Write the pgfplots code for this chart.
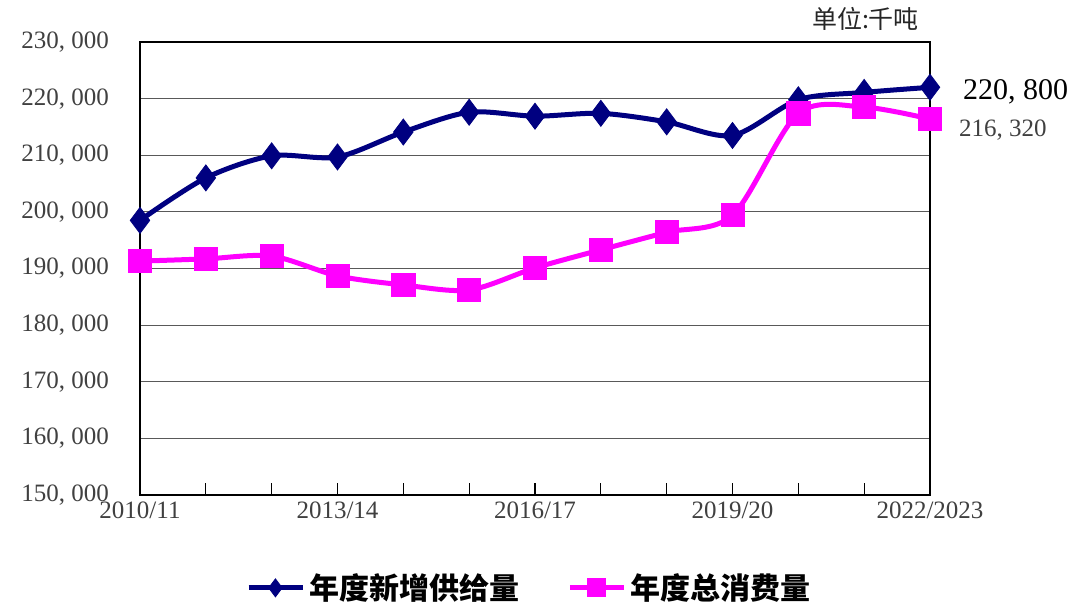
\documentclass[border=0pt]{standalone}
\usepackage{pgfplots}
\pgfplotsset{compat=1.18}
\usepackage{fontspec}
\setmainfont{Liberation Serif}
\newfontfamily\cjk{Noto Sans CJK SC}
\definecolor{navyline}{HTML}{000080}
\definecolor{magline}{HTML}{FF00FF}
\definecolor{labgray}{HTML}{404040}

\begin{document}
\begin{tikzpicture}
\begin{axis}[
  scale only axis, width=395pt, height=226.5pt,
  clip=false,
  xmin=0, xmax=12, ymin=150000, ymax=230000,
  xtick={0,...,12},
  xticklabels={2010/11,,,2013/14,,,2016/17,,,2019/20,,,2022/2023},
  ytick={150000,160000,...,230000},
  yticklabels={{150,\ 000},{160,\ 000},{170,\ 000},{180,\ 000},{190,\ 000},
    {200,\ 000},{210,\ 000},{220,\ 000},{230,\ 000}},
  ymajorgrids, grid style={black!65, line width=0.6pt},
  axis line style={black, line width=0.6pt},
  xtick pos=bottom, tick align=inside, major tick length=6pt,
  ytick style={draw=none},
  x tick style={black, line width=0.6pt},
  scaled y ticks=false,
  tick label style={font=\fontsize{12.5}{14}\selectfont, text=labgray},
  yticklabel style={xshift=-12pt},
  legend columns=2,
  legend cell align=left,
  legend style={draw=none, at={(0.494,-0.205)}, anchor=center,
    font=\cjk\bfseries\fontsize{15}{18}\selectfont,
    /tikz/every even column/.append style={column sep=22pt}},
  legend image code/.code={
    \draw[mark repeat=2, mark phase=2, mark size=4.5pt]
      plot coordinates {(0cm,0cm) (0.47cm,0cm) (0.95cm,0cm)};},
]
\addplot[navyline, line width=2.5pt, smooth, mark=diamond*, mark size=6.5pt,
  mark options={solid, fill=navyline, line width=0.4pt}]
  coordinates {
  (0,198500) (1,206000) (2,209900) (3,209700) (4,214100) (5,217600)
  (6,216900) (7,217400) (8,215900) (9,213500) (10,219800) (11,221100)
  (12,222000)
  } node[pos=1, anchor=west, xshift=12pt, yshift=-2.5pt, text=black,
    font=\fontsize{15}{16}\selectfont] {220,\ 800};
\addlegendentry{年度新增供给量}
\addplot[magline, line width=2.5pt, smooth, mark=square*, mark size=5.8pt,
  mark options={solid, fill=magline, line width=0.4pt}]
  coordinates {
  (0,191300) (1,191700) (2,192200) (3,188700) (4,187100) (5,186200)
  (6,190100) (7,193300) (8,196400) (9,199400) (10,217400) (11,218500)
  (12,216400)
  } node[pos=1, anchor=west, xshift=10pt, yshift=-5.5pt, text=labgray,
    font=\fontsize{12.5}{14}\selectfont] {216,\ 320};
\addlegendentry{年度总消费量}
\node[anchor=south east, font=\cjk\fontsize{12.5}{14}\selectfont, text=black!85,
  yshift=2pt] at (rel axis cs:0.995,1) {单位:千吨};
\end{axis}
\path[use as bounding box] (-70pt,-60pt) rectangle (470pt,247.5pt);
\end{tikzpicture}
\end{document}
